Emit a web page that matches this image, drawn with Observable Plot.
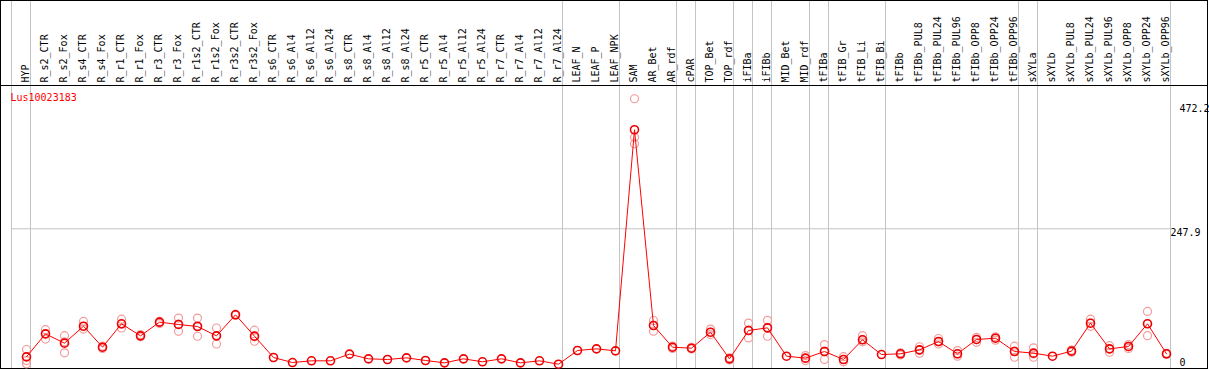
<!DOCTYPE html>
<html><head><meta charset="utf-8">
<script src="https://cdn.jsdelivr.net/npm/d3@7"></script>
<script src="https://cdn.jsdelivr.net/npm/@observablehq/plot@0.6"></script>
<style>body{margin:0;background:#fff} svg{display:block}</style>
</head><body><div id="chart"></div>
<script>
const gene = "Lus10023183";
const samples = ["HYP","R_s2_CTR","R_s2_Fox","R_s4_CTR","R_s4_Fox","R_r1_CTR","R_r1_Fox","R_r3_CTR","R_r3_Fox","R_r1s2_CTR","R_r1s2_Fox","R_r3s2_CTR","R_r3s2_Fox","R_s6_CTR","R_s6_Al4","R_s6_Al12","R_s6_Al24","R_s8_CTR","R_s8_Al4","R_s8_Al12","R_s8_Al24","R_r5_CTR","R_r5_Al4","R_r5_Al12","R_r5_Al24","R_r7_CTR","R_r7_Al4","R_r7_Al12","R_r7_Al24","LEAF_N","LEAF_P","LEAF_NPK","SAM","AR_Bet","AR_rdf","cPAR","TOP_Bet","TOP_rdf","iFIBa","iFIBb","MID_Bet","MID_rdf","tFIBa","tFIB_Gr","tFIB_Li","tFIB_Bi","tFIBb","tFIBb_PUL8","tFIBb_PUL24","tFIBb_PUL96","tFIBb_OPP8","tFIBb_OPP24","tFIBb_OPP96","sXYLa","sXYLb","sXYLb_PUL8","sXYLb_PUL24","sXYLb_PUL96","sXYLb_OPP8","sXYLb_OPP24","sXYLb_OPP96"];
const means = [15.7,57.4,40.5,71.3,33.2,75.6,53.8,78.6,74.4,70.7,53.8,91.9,53.2,14.5,5.4,8.5,8.5,20.6,12.1,10.9,13.9,9.1,4.8,12.1,6.7,12.1,4.8,8.5,2.4,27.2,30.2,26.6,427.5,72.5,33.2,31.4,60.4,12.1,63.5,68.3,16.9,13.3,25.4,10.9,46.6,19.9,21.2,28.4,43.5,21.2,47.2,49.5,25.4,22.4,16.9,26.0,76.7,30.2,34.5,75.6,21.2];
const n = null;
const rep1 = [29,65,54,80,35,84,56,80,86,86,68,93,64,n,n,n,n,n,n,n,n,n,n,n,n,n,n,n,n,n,n,n,483.7,81.6,35,33,66,14,77,82,n,18,38,16,54,n,23,34,49,27,51,52,35,32,n,28,84,36,38,98,22];
const rep2 = [9,57,43,71,33,75,54,78,75,72,54,92,52,n,n,n,n,n,n,n,n,n,n,n,n,n,n,n,n,n,n,n,414,73,33,31,60,12,64,69,n,13,26,11,47,n,21,28,43,21,47,50,26,21,n,26,77,30,34,76,21];
const rep3 = [3,48,23,66,31,68,52,76,62,53,39,91,44,n,n,n,n,n,n,n,n,n,n,n,n,n,n,n,n,n,n,n,402,62.2,31,30,56,10,50,53,n,9,11,7,43,n,19,22,39,17,42,46,15,15,n,24,71,24,31,54,20];
const groupSizes = [1,28,3,3,1,2,1,1,2,1,3,7,1,7];
const yTicks = [0, 247.9, 472.2];
const yGrid = [247.9];

const N = samples.length;
const boundaries = [0];
groupSizes.reduce((acc, k) => { acc += k; boundaries.push(acc); return acc; }, 0);
const rows = samples.map((s, i) => ({i, s, m: means[i]}));
const reps = [];
[rep1, rep2, rep3].forEach(r => r.forEach((v, i) => { if (v != null) reps.push({i, v}); }));

const font = "DejaVu Sans Mono";
const tickMarks = yTicks.map(t => Plot.text([t], {
  x: N, y: d => d, text: d => String(d), textAnchor: "start",
  lineAnchor: t === 0 ? "bottom" : "top",
  dx: yGrid.includes(t) ? 0 : 9, fill: "black", fontSize: 10, ariaLabel: "ytick"
}));

const plot = Plot.plot({
  width: 1209, height: 370,
  marginTop: 0, marginLeft: 0, marginRight: 2, marginBottom: 2,
  x: {domain: [0, N], range: [11, 1170], axis: null},
  y: {domain: [0, 472.2], range: [365, 104.6], axis: null},
  style: {fontFamily: font, fontSize: "10px", background: "white"},
  marks: [
    Plot.ruleY(yGrid, {x2: N, stroke: "#c4c4c4", strokeWidth: 1}),
    Plot.ruleX(boundaries, {stroke: "#c4c4c4", strokeWidth: 1}),
    Plot.frame({stroke: "black"}),
    Plot.frame({insetTop: 85, stroke: "black"}),
    Plot.text(samples, {x: (d, i) => i, frameAnchor: "top", dy: 82, dx: 17, rotate: -90,
      textAnchor: "start", lineAnchor: "bottom", text: d => d, fill: "black", fontSize: 10}),
    Plot.text([gene], {frameAnchor: "top-left", dx: 10, dy: 100, lineAnchor: "bottom",
      textAnchor: "start", fill: "red", text: d => d, fontSize: 10}),
    Plot.dot(reps, {x: "i", y: "v", dx: 15, r: 4, stroke: "#f29b9b", strokeWidth: 1.2, fill: "none"}),
    Plot.line(rows, {x: "i", y: "m", dx: 15, stroke: "red", strokeWidth: 1}),
    Plot.dot(rows, {x: "i", y: "m", dx: 15, r: 4, stroke: "#ee0000", strokeWidth: 1.6, fill: "none"}),
    ...tickMarks
  ]
});
d3.select(plot).selectAll('g[aria-label="ytick"] text').style("letter-spacing", "1px");
document.getElementById("chart").appendChild(plot);
</script>
</body></html>
